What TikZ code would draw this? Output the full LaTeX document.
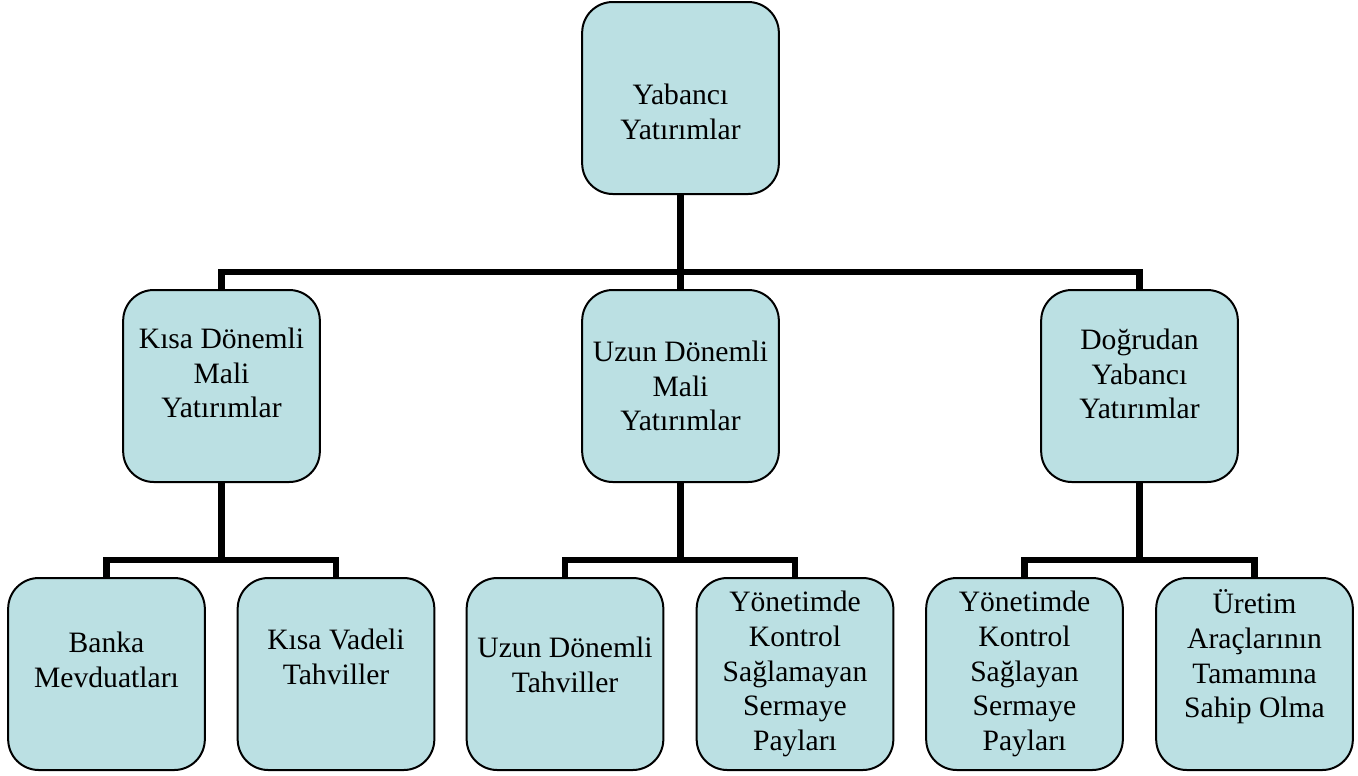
\documentclass[tikz,border=0pt]{standalone}
\usepackage{fontspec}
\setmainfont{Liberation Serif}
\definecolor{kutumavi}{RGB}{187,224,227}

\begin{document}
\begin{tikzpicture}[x=0.75pt,y=-0.75pt,every node/.style={font=\fontsize{22.2}{26}\selectfont}]
  \tikzset{
    kutu/.style={draw=black,line width=1.5pt,rounded corners=23pt,fill=kutumavi,minimum width=147.5pt,minimum height=144pt,inner sep=0pt},
    yazi/.style={align=center,inner sep=0pt},
    conn/.style={draw=black,line width=4.8pt}
  }
  \useasboundingbox (0,0) rectangle (1358,775);
  % kutular
  \node[kutu] (root) at (680.5,98) {};
  \node[kutu] (kisa) at (221.5,386) {};
  \node[kutu] (uzun) at (680.5,386) {};
  \node[kutu] (dog) at (1139.5,386) {};
  \node[kutu] (banka) at (106.5,674) {};
  \node[kutu] (kvt) at (336,674) {};
  \node[kutu] (udt) at (565,674) {};
  \node[kutu] (ykslm) at (795,674) {};
  \node[kutu] (yksly) at (1024.5,674) {};
  \node[kutu] (uret) at (1254.5,674) {};
  % yazilar
  \node[yazi] (t0) at ([shift={(0,14)}]root.center) {Yabancı\\Yatırımlar};
  \node[yazi] (t1) at ([shift={(0,-13)}]kisa.center) {Kısa Dönemli\\Mali\\Yatırımlar};
  \node[yazi] (t2) at (uzun.center) {Uzun Dönemli\\Mali\\Yatırımlar};
  \node[yazi] (t3) at ([shift={(0,-12)}]dog.center) {Doğrudan\\Yabancı\\Yatırımlar};
  \node[yazi] (t11) at ([shift={(0,-14)}]banka.center) {Banka\\Mevduatları};
  \node[yazi] (t12) at ([shift={(0,-17)}]kvt.center) {Kısa Vadeli\\Tahviller};
  \node[yazi] (t21) at ([shift={(0,-9)}]udt.center) {Uzun Dönemli\\Tahviller};
  \node[yazi] (t22) at (ykslm.center) {Yönetimde\\Kontrol\\Sağlamayan\\Sermaye\\Payları};
  \node[yazi] (t31) at (yksly.center) {Yönetimde\\Kontrol\\Sağlayan\\Sermaye\\Payları};
  \node[yazi] (t32) at ([shift={(0,-17)}]uret.center) {Üretim\\Araçlarının\\Tamamına\\Sahip Olma};
  % baglantilar
  \coordinate (bar0) at (680.5,272);
  \coordinate (bar1) at (221.5,560);
  \coordinate (bar2) at (680.5,560);
  \coordinate (bar3) at (1139.5,560);
  \draw[conn] (root.south) -- (bar0);
  \draw[conn] (bar0) -| (kisa.north);
  \draw[conn] (bar0) -- (uzun.north);
  \draw[conn] (bar0) -| (dog.north);
  \draw[conn] (kisa.south) -- (bar1);
  \draw[conn] (bar1) -| (banka.north);
  \draw[conn] (bar1) -| (kvt.north);
  \draw[conn] (uzun.south) -- (bar2);
  \draw[conn] (bar2) -| (udt.north);
  \draw[conn] (bar2) -| (ykslm.north);
  \draw[conn] (dog.south) -- (bar3);
  \draw[conn] (bar3) -| (yksly.north);
  \draw[conn] (bar3) -| (uret.north);
\end{tikzpicture}
\end{document}
